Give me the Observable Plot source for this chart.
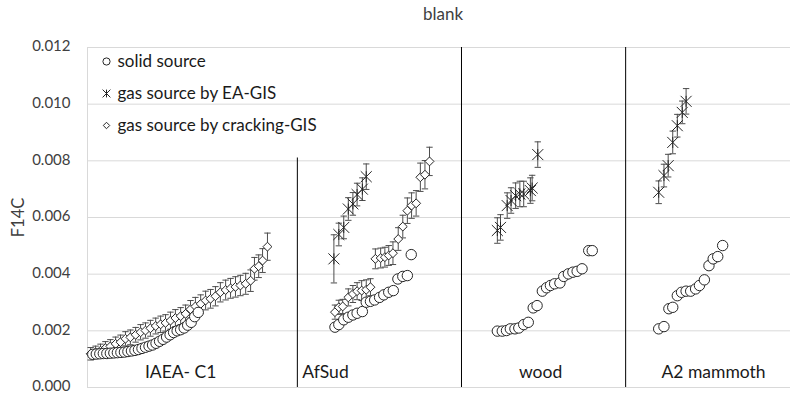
<!DOCTYPE html>
<html>
<head>
<meta charset="utf-8">
<script src="https://cdn.jsdelivr.net/npm/d3@7"></script>
<script src="https://cdn.jsdelivr.net/npm/@observablehq/plot@0.6"></script>
<style>
  html, body { margin: 0; padding: 0; background: white; }
</style>
</head>
<body>
<div id="chart"></div>
<script>
// ---- Data (x = sample position, y = F14C) ----
const yTicks = [0, 0.002, 0.004, 0.006, 0.008, 0.010, 0.012];

const groupNames = ["IAEA- C1", "AfSud", "wood", "A2 mammoth"];
const groupCenters = [26.5, 67.7, 128.9, 178.1];
const dividerX = [59.7, 106.4, 153.1];
const dividerTop = [0.0081, 0.012, 0.012];

// solid source (circles)
const solidX = [
  1.5, 2.5, 3.5, 4.5, 5.5, 6.5, 7.5, 8.5, 9.5, 10.5, 11.5, 12.5, 13.5, 14.5, 15.5, 16.5,
  17.5, 18.5, 19.5, 20.5, 21.5, 22.5, 23.5, 24.5, 25.5, 26.5, 27.5, 28.5, 29.5, 30.5, 31.5,
  70.4, 71.5, 72.9, 74.2, 75.5, 76.7, 78.2, 79.3, 80.5, 81.7, 83.1, 84.3, 85.7, 87.0, 88.3, 89.7, 91.0, 92.1,
  116.6, 118.0, 119.2, 120.3, 121.6, 122.7, 124.1, 125.4, 126.8, 127.9, 129.4, 130.6, 131.7, 132.9,
  134.4, 135.5, 136.8, 138.1, 139.3, 140.7, 142.6, 143.6,
  162.5, 164.0, 165.4, 166.5, 167.8, 169.0, 170.3, 171.6, 173.0, 174.1, 175.5, 176.8, 178.0, 179.3, 180.7
];
const solidY = [
  0.00117, 0.00118, 0.00119, 0.00120, 0.00120, 0.00121, 0.00122, 0.00123, 0.00124, 0.00125, 0.00127,
  0.00129, 0.00131, 0.00134, 0.00138, 0.00142, 0.00146, 0.00150, 0.00156, 0.00163, 0.00170, 0.00178,
  0.00186, 0.00194, 0.00200, 0.00204, 0.00210, 0.00220, 0.00230, 0.00250, 0.00265,
  0.00213, 0.00222, 0.00239, 0.00248, 0.00256, 0.00262, 0.00268, 0.00301, 0.00304, 0.00309, 0.00318,
  0.00327, 0.00336, 0.00342, 0.00383, 0.00392, 0.00395, 0.00469,
  0.00199, 0.00199, 0.00201, 0.00207, 0.00207, 0.00210, 0.00222, 0.00230, 0.00281, 0.00289, 0.00340,
  0.00352, 0.00360, 0.00366, 0.00369, 0.00392, 0.00401, 0.00407, 0.00410, 0.00419, 0.00483, 0.00483,
  0.00207, 0.00215, 0.00278, 0.00283, 0.00324, 0.00336, 0.00340, 0.00340, 0.00348, 0.00360, 0.00380,
  0.00430, 0.00454, 0.00462, 0.00501
];

// gas source by EA-GIS (stars)
const eaX = [
  70.1, 71.5, 72.9, 74.2, 75.5, 76.7, 78.2, 79.3,
  116.6, 117.5, 119.4, 120.5, 121.8, 123.0, 124.1, 126.0, 126.5, 128.1,
  162.5, 164.0, 165.2, 166.5, 167.8, 169.2, 170.3
];
const eaY = [
  0.00454, 0.00540, 0.00565, 0.00630, 0.00648, 0.00681, 0.00700, 0.00744,
  0.00554, 0.00565, 0.00642, 0.00660, 0.00677, 0.00683, 0.00683, 0.00695, 0.00704, 0.00822,
  0.00689, 0.00748, 0.00783, 0.00865, 0.00924, 0.00971, 0.01010
];
const eaErr = [
  0.00085, 0.00040, 0.00040, 0.00040, 0.00040, 0.00040, 0.00040, 0.00045,
  0.00045, 0.00045, 0.00045, 0.00045, 0.00045, 0.00045, 0.00045, 0.00045, 0.00045, 0.00045,
  0.00040, 0.00040, 0.00040, 0.00040, 0.00040, 0.00040, 0.00045
];

// gas source by cracking-GIS (diamonds)
const crackX = [
  0.9, 2.3, 3.7, 5.1, 6.5, 8.0, 9.4, 10.8, 12.2, 13.7, 15.1, 16.5, 17.9, 19.4, 20.8, 22.2, 23.6,
  25.0, 26.5, 27.9, 29.3, 30.7, 32.2, 33.6, 35.0, 36.4, 37.8, 39.3, 40.7, 42.1, 43.5, 45.0, 46.4,
  47.5, 48.7, 49.8, 51.2,
  70.4, 71.5, 72.6, 74.2, 75.5, 76.7, 78.0, 79.3, 80.5, 81.9, 83.4, 84.6, 85.7, 86.9, 88.4, 89.7,
  91.0, 92.2, 93.5, 94.7, 96.0, 97.3
];
const crackY = [
  0.00119, 0.00124, 0.00130, 0.00139, 0.00145, 0.00154, 0.00160, 0.00172, 0.00177, 0.00186, 0.00195,
  0.00201, 0.00209, 0.00217, 0.00223, 0.00228, 0.00236, 0.00245, 0.00252, 0.00260, 0.00276, 0.00286,
  0.00295, 0.00307, 0.00313, 0.00322, 0.00336, 0.00344, 0.00350, 0.00355, 0.00360, 0.00366, 0.00377,
  0.00419, 0.00428, 0.00448, 0.00497,
  0.00266, 0.00283, 0.00286, 0.00318, 0.00330, 0.00340, 0.00342, 0.00345, 0.00354, 0.00454, 0.00457,
  0.00460, 0.00466, 0.00474, 0.00524, 0.00568, 0.00624, 0.00642, 0.00650, 0.00742, 0.00751, 0.00798
];
const crackErr = [
  0.00022, 0.00022, 0.00023, 0.00023, 0.00024, 0.00024, 0.00025, 0.00025, 0.00026, 0.00026, 0.00027,
  0.00027, 0.00028, 0.00028, 0.00029, 0.00029, 0.00030, 0.00030, 0.00030, 0.00031, 0.00031, 0.00032,
  0.00032, 0.00033, 0.00033, 0.00034, 0.00034, 0.00035, 0.00035, 0.00036, 0.00036, 0.00037, 0.00038,
  0.00040, 0.00040, 0.00042, 0.00048,
  0.00025, 0.00025, 0.00025, 0.00030, 0.00030, 0.00030, 0.00035, 0.00035, 0.00030, 0.00035, 0.00035,
  0.00035, 0.00035, 0.00040, 0.00040, 0.00040, 0.00045, 0.00045, 0.00045, 0.00050, 0.00050, 0.00050
];

const legendLabels = ["solid source", "gas source by EA-GIS", "gas source by cracking-GIS"];

// ---- build tables ----
const solid = solidX.map((x, i) => ({x, y: solidY[i]}));
const ea = eaX.map((x, i) => ({x, y: eaY[i], lo: eaY[i] - eaErr[i], hi: eaY[i] + eaErr[i]}));
const crack = crackX.map((x, i) => ({x, y: crackY[i], lo: crackY[i] - crackErr[i], hi: crackY[i] + crackErr[i]}));
const dividers = dividerX.map((x, i) => ({x, top: dividerTop[i]}));
const groups = groupNames.map((name, i) => ({name, x: groupCenters[i]}));

// custom symbols
const star = {
  draw(ctx, size) {
    const r = Math.sqrt(size) / 2;
    ctx.moveTo(-r, -r); ctx.lineTo(r, r);
    ctx.moveTo(-r, r); ctx.lineTo(r, -r);
    ctx.moveTo(0, -r); ctx.lineTo(0, r);
  }
};
const cap = {
  draw(ctx, size) {
    const r = Math.sqrt(size) / 2;
    ctx.moveTo(-r, 0); ctx.lineTo(r, 0);
  }
};

const ink = "#262626";
const errColor = "#4d4d4d";
const font = "Lato, 'Open Sans', sans-serif";

function errorBars(data) {
  return [
    Plot.ruleX(data, {x: "x", y1: "lo", y2: "hi", stroke: errColor, strokeWidth: 1}),
    Plot.dot(data, {x: "x", y: "lo", symbol: cap, r: 3.6, stroke: errColor, strokeWidth: 1}),
    Plot.dot(data, {x: "x", y: "hi", symbol: cap, r: 3.6, stroke: errColor, strokeWidth: 1})
  ];
}

const legendSymbols = ["circle", star, "diamond2"];
const legendR = [3.6, 4.4, 2.9];
const legendMarks = [];
legendLabels.forEach((label, i) => {
  legendMarks.push(Plot.dot([label], {frameAnchor: "top-left", dx: 19, dy: 14 + 32 * i,
    symbol: legendSymbols[i], r: legendR[i], stroke: ink, fill: "white", strokeWidth: 1}));
  legendMarks.push(Plot.text([label], {frameAnchor: "top-left", dx: 30, dy: 14 + 32 * i,
    text: d => d, textAnchor: "start", lineAnchor: "middle", fontSize: 17, fill: "#1a1a1a", fontFamily: font}));
});

const chart = Plot.plot({
  width: 799,
  height: 393,
  marginLeft: 87,
  marginRight: 9,
  marginTop: 47,
  marginBottom: 6,
  x: {domain: [0, 200], axis: null},
  y: {domain: [0, 0.012], axis: null},
  style: {fontFamily: font, fontSize: "14px", color: "#404040", background: "white", overflow: "visible"},
  marks: [
    Plot.ruleY(yTicks, {stroke: "#d9d9d9", strokeWidth: 1}),
    Plot.ruleX([0], {stroke: "#d9d9d9", strokeWidth: 1}),
    Plot.axisY({ticks: yTicks, tickFormat: d3.format(".3f"), tickSize: 0, tickPadding: 17, label: null,
      fontSize: 15, dy: -1, fill: "#404040"}),
    Plot.ruleX(dividers, {x: "x", y1: 0, y2: "top", stroke: "black", strokeWidth: 1}),
    ...errorBars(crack),
    Plot.dot(crack, {x: "x", y: "y", symbol: "diamond2", r: 4, stroke: ink, fill: "white", strokeWidth: 1}),
    ...errorBars(ea),
    Plot.dot(ea, {x: "x", y: "y", symbol: star, r: 6.2, stroke: ink, strokeWidth: 1}),
    Plot.dot(solid, {x: "x", y: "y", symbol: "circle", r: 5.2, stroke: ink, fill: "white", strokeWidth: 1}),
    Plot.text(groups, {x: "x", frameAnchor: "bottom", lineAnchor: "middle", dy: -15, text: "name",
      fontSize: 17.5, fill: "#1a1a1a", fontFamily: font}),
    ...legendMarks,
    Plot.text(["blank"], {frameAnchor: "top", lineAnchor: "middle", dx: 4, dy: -33, text: d => d,
      fontSize: 17, fill: "#404040", fontFamily: font}),
    Plot.text(["F14C"], {frameAnchor: "left", textAnchor: "middle", lineAnchor: "middle", dx: -69, rotate: -90,
      text: d => d, fontSize: 16.5, fill: "#404040", fontFamily: font})
  ]
});
document.getElementById("chart").appendChild(chart);
</script>
</body>
</html>
